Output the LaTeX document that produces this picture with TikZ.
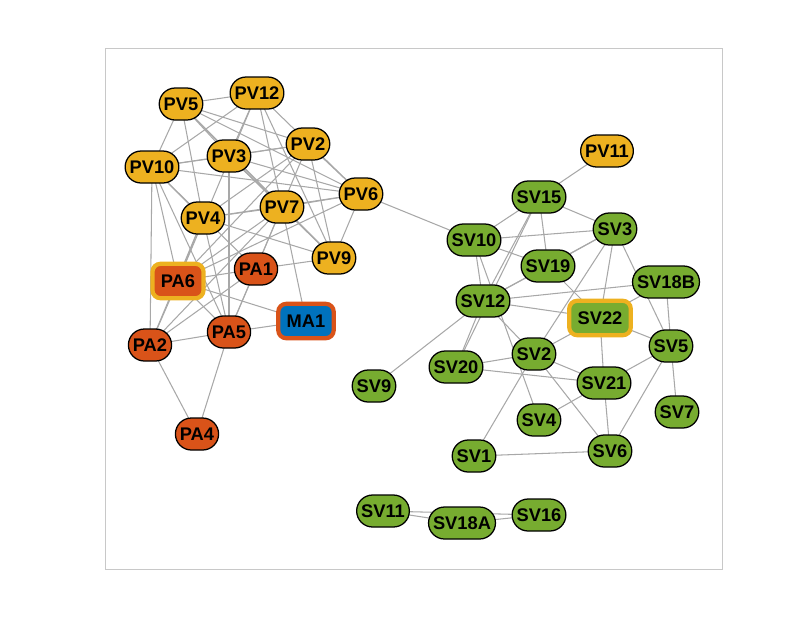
\documentclass[tikz,border=0pt]{standalone}
\usepackage{fontspec}
\setmainfont{Liberation Sans}
\usetikzlibrary{backgrounds}
\definecolor{pvyellow}{RGB}{237,177,32}
\definecolor{paorange}{RGB}{217,83,25}
\definecolor{mablue}{RGB}{0,114,189}
\definecolor{svgreen}{RGB}{119,172,48}
\definecolor{linkgray}{RGB}{168,168,168}
\definecolor{framegray}{RGB}{200,200,200}
\tikzset{
    vnode/.style={draw=black, line width=0.9pt, rounded corners=0.4cm, minimum height=0.8cm,
        inner xsep=3.2pt, font=\fontsize{13}{15}\selectfont\bfseries},
    pv/.style={vnode, fill=pvyellow},
    pa/.style={vnode, fill=paorange},
    sv/.style={vnode, fill=svgreen},
    hub/.style={rounded corners=0.2cm, line width=3pt, minimum height=0.86cm, minimum width=1.25cm,
        inner xsep=6pt, font=\fontsize{13}{15}\selectfont\bfseries},
    link/.style={draw=linkgray, line width=0.75pt}
}
\begin{document}
\begin{tikzpicture}[x=0.025cm,y=-0.025cm]
    \useasboundingbox (0,0) rectangle (800,640);
    \draw[framegray, line width=0.6pt] (105,48) rectangle (722,569);
    % PV and PA group
    \node[pv] (pv5) at (181,104) {PV5};
    \node[pv] (pv12) at (257,93) {PV12};
    \node[pv] (pv2) at (308,144) {PV2};
    \node[pv] (pv3) at (229,156) {PV3};
    \node[pv] (pv10) at (152,167) {PV10};
    \node[pv] (pv6) at (361,194) {PV6};
    \node[pv] (pv7) at (282,207) {PV7};
    \node[pv] (pv4) at (203,218) {PV4};
    \node[pv] (pv9) at (334,258) {PV9};
    \node[pa] (pa1) at (256,269) {PA1};
    \node[pa] (pa5) at (229,332) {PA5};
    \node[pa] (pa2) at (150,345) {PA2};
    \node[pa] (pa4) at (197,434) {PA4};
    \node[hub, draw=pvyellow, fill=paorange] (pa6) at (178,281) {PA6};
    \node[hub, draw=paorange, fill=mablue] (ma1) at (306,321) {MA1};
    % SV group
    \node[pv] (pv11) at (607,151) {PV11};
    \node[sv] (sv15) at (539,197) {SV15};
    \node[sv] (sv3) at (615,229) {SV3};
    \node[sv] (sv10) at (474,240) {SV10};
    \node[sv] (sv19) at (548,266) {SV19};
    \node[sv] (sv18b) at (666,282) {SV18B};
    \node[sv] (sv12) at (483,301) {SV12};
    \node[hub, draw=pvyellow, fill=svgreen] (sv22) at (600,318) {SV22};
    \node[sv] (sv5) at (671,346) {SV5};
    \node[sv] (sv2) at (534,354) {SV2};
    \node[sv] (sv20) at (456,367) {SV20};
    \node[sv] (sv21) at (604,383) {SV21};
    \node[sv] (sv9) at (374,386) {SV9};
    \node[sv] (sv4) at (539,420) {SV4};
    \node[sv] (sv7) at (677,412) {SV7};
    \node[sv] (sv1) at (474,456) {SV1};
    \node[sv] (sv6) at (610,451) {SV6};
    \node[sv] (sv11) at (383,511) {SV11};
    \node[sv] (sv18a) at (462,523) {SV18A};
    \node[sv] (sv16) at (539,515) {SV16};
    \begin{scope}[on background layer]
        \foreach \a/\b in {pv5/pv12, pv5/pv10, pv5/pv3, pv5/pv2, pv5/pv6, pv5/pv4, pv5/pv9, pv5/pv7,
            pv12/pv10, pv12/pv3, pv12/pv7, pv12/pv6, pv12/pv9, pv12/pa6,
            pv2/pv3, pv2/pv6, pv2/pv4, pv2/pa6, pv2/pv10, pv2/pv9, pv2/pa1,
            pv3/pv10, pv3/pv7, pv3/pv6, pv3/pa5, pv3/pv9,
            pv10/pv6, pv10/pv4, pv10/pa6, pv10/pa1, pv10/pa2, pv10/pa5,
            pv6/pv7, pv6/pv9, pv6/pa6, pv6/pv4, pv6/sv10,
            pv7/pv4, pv7/pa6, pv7/pa2, pv7/pv9, pv7/ma1, pv7/pa5,
            pv4/pa6, pv4/pa2, pv4/pv9, pv4/pa5,
            pv9/pa1, pa6/pa1, pa6/pa2, pa6/pa5, pa6/ma1, pa1/pa5, pa1/pa2,
            pa5/pa2, pa5/ma1, pa5/pa4, pa2/pa4}
            \draw[link] (\a.center) -- (\b.center);
        \foreach \a/\b in {sv15/pv11, sv15/sv10, sv15/sv3, sv15/sv19, sv15/sv12, sv15/sv20,
            sv10/sv3, sv10/sv19, sv10/sv12, sv10/sv4,
            sv19/sv3, sv19/sv12, sv19/sv22,
            sv3/sv12, sv3/sv22, sv3/sv2, sv3/sv5,
            sv12/sv18b, sv12/sv22, sv12/sv2, sv12/sv20, sv12/sv9,
            sv18b/sv22, sv18b/sv5, sv22/sv2, sv22/sv21, sv22/sv5,
            sv2/sv20, sv2/sv21, sv2/sv1, sv2/sv6,
            sv20/sv21, sv21/sv4, sv21/sv6, sv21/sv5, sv5/sv6, sv5/sv7, sv1/sv6,
            sv11/sv18a, sv18a/sv16, sv11/sv16}
            \draw[link] (\a.center) -- (\b.center);
    \end{scope}
\end{tikzpicture}
\end{document}
